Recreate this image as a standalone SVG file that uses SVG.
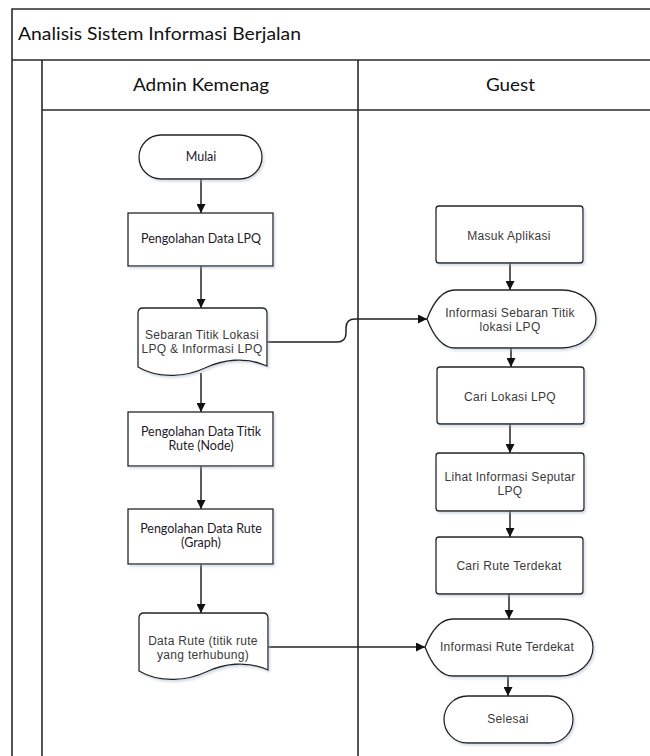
<svg xmlns="http://www.w3.org/2000/svg" width="650" height="756" viewBox="0 0 650 756">
<defs>
<marker id="arr" viewBox="0 0 10 10" refX="10" refY="5" markerWidth="9" markerHeight="9" markerUnits="userSpaceOnUse" orient="auto">
<path d="M0,0 L10,5 L0,10 z" fill="#111"/>
</marker>
<filter id="sh" x="-10%" y="-10%" width="125%" height="130%">
<feDropShadow dx="1.5" dy="2" stdDeviation="1.2" flood-color="#9fb3c8" flood-opacity="0.45"/>
</filter>
<style>
.lane{fill:none;stroke:#2a2a2a;stroke-width:1.6}
.hdr{font-family:Lato,"Liberation Sans",sans-serif;font-size:17px;fill:#111}
.nd{fill:#fff;stroke:#222;stroke-width:1.3;filter:url(#sh)}
.ta{font-family:Lato,"Liberation Sans",sans-serif;font-size:12.5px;fill:#1e1a2a;text-anchor:middle}
.tg{font-family:"Liberation Sans",Arial,sans-serif;font-size:12px;letter-spacing:0.3px;fill:#3a3a3a;text-anchor:middle}
.cn{fill:none;stroke:#222;stroke-width:1.5;marker-end:url(#arr)}
</style>
</defs>
<rect x="0" y="0" width="650" height="756" fill="#fff"/>
<g id="pool">
<path class="lane" d="M650,9 L12,9 L12,756 M12,60 L650,60 M42,60 L42,756 M42,110 L650,110 M358,60 L358,756"/>
<text class="hdr" x="18" y="40" textLength="283" lengthAdjust="spacingAndGlyphs">Analisis Sistem Informasi Berjalan</text>
<text class="hdr" x="133" y="91" textLength="136" lengthAdjust="spacingAndGlyphs">Admin Kemenag</text>
<text class="hdr" x="486" y="91" textLength="49" lengthAdjust="spacingAndGlyphs">Guest</text>
</g>
<g id="connectors">
<path class="cn" d="M201,179 L201,213"/>
<path class="cn" d="M201,266 L201,308"/>
<path class="cn" d="M201,373 L201,412"/>
<path class="cn" d="M201,466 L201,509"/>
<path class="cn" d="M201,564 L201,613"/>
<path class="cn" d="M510,263 L510,290"/>
<path class="cn" d="M511,348 L511,367"/>
<path class="cn" d="M510,424 L510,453"/>
<path class="cn" d="M510,511 L510,537"/>
<path class="cn" d="M509,594 L509,619"/>
<path class="cn" d="M508,676 L508,696"/>
<path class="cn" d="M267,342 L337,342 Q346,342 346,333 L346,328 Q346,319 355,319 L427,319"/>
<path class="cn" d="M268,647 L425,647"/>
</g>
<g id="mulai">
<rect class="nd" x="139" y="135" width="123" height="44" rx="22"/>
<text class="ta" x="201" y="161">Mulai</text>
</g>
<g id="pengolahan-lpq">
<rect class="nd" x="128" y="213" width="145" height="53"/>
<text class="ta" x="201" y="243">Pengolahan Data LPQ</text>
</g>
<g id="sebaran">
<path class="nd" d="M138,367 L138,313 Q138,308 143,308 L262,308 Q267,308 267,313 L267,366 C245,356 222,360 205,368 C188,376 160,380 138,367 Z"/>
<text class="tg" x="202" y="339">Sebaran Titik Lokasi</text>
<text class="tg" x="202" y="353">LPQ &amp; Informasi LPQ</text>
</g>
<g id="pengolahan-node">
<rect class="nd" x="128" y="412" width="145" height="54"/>
<text class="ta" x="201" y="436">Pengolahan Data Titik</text>
<text class="ta" x="201" y="450">Rute (Node)</text>
</g>
<g id="pengolahan-graph">
<rect class="nd" x="128" y="509" width="145" height="55"/>
<text class="ta" x="201" y="533">Pengolahan Data Rute</text>
<text class="ta" x="201" y="547">(Graph)</text>
</g>
<g id="data-rute">
<path class="nd" d="M139,671 L139,618 Q139,613 144,613 L263,613 Q268,613 268,618 L268,670 C246,660 223,664 206,672 C189,680 161,684 139,671 Z"/>
<text class="tg" x="203" y="645">Data Rute (titik rute</text>
<text class="tg" x="203" y="659">yang terhubung)</text>
</g>
<g id="masuk">
<rect class="nd" x="436" y="206" width="147" height="57" rx="3"/>
<text class="tg" x="509" y="240">Masuk Aplikasi</text>
</g>
<g id="info-sebaran">
<path class="nd" d="M427,319 Q438,290 455,290 L562,290 A34,29 0 0 1 562,348 L455,348 Q438,348 427,319 Z"/>
<text class="tg" x="510" y="317">Informasi Sebaran Titik</text>
<text class="tg" x="510" y="331">lokasi LPQ</text>
</g>
<g id="cari-lokasi">
<rect class="nd" x="437" y="367" width="147" height="57" rx="3"/>
<text class="tg" x="510" y="401">Cari Lokasi LPQ</text>
</g>
<g id="lihat-info">
<rect class="nd" x="436" y="453" width="148" height="58" rx="3"/>
<text class="tg" x="510" y="481">Lihat Informasi Seputar</text>
<text class="tg" x="510" y="495">LPQ</text>
</g>
<g id="cari-rute">
<rect class="nd" x="436" y="537" width="147" height="57" rx="3"/>
<text class="tg" x="509" y="570">Cari Rute Terdekat</text>
</g>
<g id="info-rute">
<path class="nd" d="M425,647 Q436,619 453,619 L560,619 A33,28.5 0 0 1 560,676 L453,676 Q436,676 425,647 Z"/>
<text class="tg" x="507" y="651">Informasi Rute Terdekat</text>
</g>
<g id="selesai">
<rect class="nd" x="444" y="696" width="129" height="47" rx="23.5"/>
<text class="tg" x="508" y="723">Selesai</text>
</g>
</svg>
